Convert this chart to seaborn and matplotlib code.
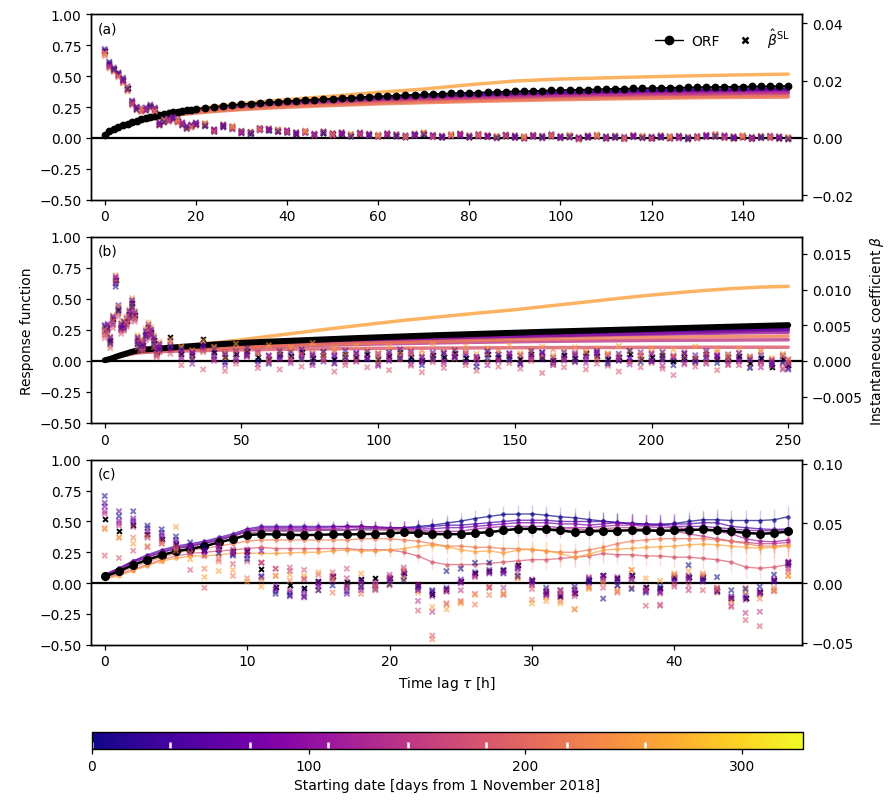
import numpy as np
import pandas as pd
import matplotlib
matplotlib.use('Agg')
import matplotlib.pyplot as plt
from matplotlib.colors import Normalize
from matplotlib.cm import ScalarMappable
from matplotlib.lines import Line2D
import seaborn as sns

sns.set_theme(style='ticks', rc={
    'axes.edgecolor': 'black', 'axes.labelcolor': 'black', 'text.color': 'black',
    'xtick.color': 'black', 'ytick.color': 'black', 'font.size': 10,
    'axes.labelsize': 10, 'xtick.labelsize': 10, 'ytick.labelsize': 10,
    'legend.fontsize': 10, 'axes.linewidth': 1.0,
    'xtick.major.width': 0.9, 'ytick.major.width': 0.9,
    'xtick.major.size': 3.5, 'ytick.major.size': 3.5})
plt.rcParams['font.family'] = ['DejaVu Sans']

# ── Starting dates (days from 1 Nov 2018) and colours ───────────────────────
start_days = [0, 36, 73, 109, 146, 182, 219, 255]
DAY_MAX = 328
cmap = plt.get_cmap('plasma')
norm = Normalize(0, DAY_MAX)
palette = {d: cmap(norm(d)) for d in start_days}

# ── Panel (a) ───────────────────────────────────────────────────────────────
lag_a = list(range(21)) + list(range(22, 151, 2))
lag_a_orf = [0, 1, 2, 3, 4, 5, 6, 7, 8, 9, 10, 12, 14, 16, 18, 20, 25, 30, 35, 40,
             50, 60, 70, 80, 90, 100, 110, 120, 130, 140, 150]
# ORF in thousandths
orf_a_all = [27, 52, 72, 88, 102, 115, 127, 138, 149, 160, 170, 179, 187, 194, 201, 207,
             213, 219, 224, 229, 234,
             242, 250, 258, 265, 272, 278, 283, 288, 293, 298, 302, 306, 310, 314, 318,
             322, 326, 330, 334, 337, 340, 343, 346, 349, 352, 355, 358, 360, 363, 365,
             367, 370, 372, 374, 376, 378, 380, 382, 384, 386, 388, 390, 391, 393, 395,
             397, 398, 400, 401, 403, 404, 406, 407, 408, 410, 411, 412, 413, 414, 415,
             416, 417, 418, 419, 420]
orf_a = [
    [25, 50, 70, 86, 100, 113, 124, 135, 146, 156, 166, 182, 195, 206, 216, 225, 244, 259, 271, 282, 300, 316, 329, 340, 350, 359, 367, 374, 380, 385, 390],
    [26, 51, 71, 87, 101, 114, 126, 137, 148, 158, 168, 184, 197, 209, 219, 228, 248, 264, 277, 288, 307, 324, 338, 350, 361, 370, 378, 386, 392, 397, 400],
    [25, 50, 70, 86, 100, 112, 123, 134, 144, 154, 164, 180, 193, 204, 214, 223, 242, 257, 269, 280, 298, 313, 326, 337, 347, 356, 364, 371, 377, 382, 385],
    [24, 49, 69, 85, 98, 110, 121, 131, 141, 151, 160, 176, 189, 200, 209, 218, 236, 250, 262, 272, 289, 304, 316, 326, 335, 343, 350, 357, 362, 366, 370],
    [24, 48, 68, 83, 97, 109, 120, 130, 140, 149, 158, 173, 186, 196, 205, 214, 231, 245, 256, 266, 282, 296, 308, 318, 327, 335, 342, 348, 353, 357, 360],
    [23, 47, 66, 81, 94, 106, 116, 126, 135, 144, 152, 167, 179, 189, 198, 206, 222, 235, 246, 255, 270, 283, 294, 303, 311, 318, 325, 330, 335, 338, 340],
    [22, 46, 65, 80, 93, 104, 114, 124, 133, 141, 149, 163, 175, 185, 193, 201, 216, 229, 239, 248, 262, 275, 285, 294, 302, 309, 315, 320, 325, 328, 330],
    [24, 49, 70, 87, 101, 114, 126, 137, 148, 159, 169, 186, 200, 213, 224, 235, 258, 278, 295, 310, 338, 368, 395, 430, 460, 476, 486, 495, 503, 510, 516],
]
# instantaneous coefficient in units of 1e-4
beta_a_all = [303, 257, 240, 222, 203, 174, 124, 103, 98, 101, 110, 100, 49, 60, 64, 69, 60, 49, 37, 42, 49,
              45, 25, 42, 35, 19, 16, 30, 28, 24, 22, 15, 20, 10, 18, 12, 15, 8, 14, 10, 6, 12, 8, 4, 10, 14,
              6, 3, 8, 11, 4, 9, 5, 2, 7, 4, 1, 6, 3, 8, 2, 5, -2, 4, 6, 1, 3, -1, 5, 2, 0, 4, 1, 3, -2, 2,
              6, 8, 3, 1, 4, -1, 2, 3, 0, -2]
beta_a = [
    [305, 262, 238, 225, 205, 170, 118, 100, 95, 96, 108, 97, 45, 55, 60, 66, 58, 45, 33, 40, 46,
     42, 22, 38, 30, 16, 12, 28, 25, 22, 18, 12, 18, 8, 15, 10, 12, 5, 12, 8, 4, 9, 6, 2, 8, 12, 4, 1, 6, 9, 2,
     7, 3, 0, 5, 2, -1, 4, 1, 6, 0, 3, -4, 2, 4, -1, 1, -3, 3, 0, -2, 2, -1, 1, -4, 0, 4, 6, 1, -1, 2, -3, 0, 1, -2, -4],
    [310, 265, 245, 228, 210, 180, 130, 108, 104, 106, 116, 106, 55, 65, 70, 74, 66, 54, 42, 47, 54,
     50, 30, 46, 40, 24, 20, 34, 32, 28, 26, 19, 24, 14, 22, 16, 19, 12, 18, 14, 10, 16, 12, 8, 14, 18, 10, 7, 12, 15, 8,
     13, 9, 6, 11, 8, 5, 10, 7, 12, 6, 9, 2, 8, 10, 5, 7, 3, 9, 6, 4, 8, 5, 7, 2, 6, 10, 12, 7, 5, 8, 3, 6, 7, 4, 2],
    [300, 255, 242, 220, 200, 176, 126, 106, 100, 104, 112, 102, 52, 62, 66, 70, 62, 52, 39, 44, 51,
     47, 27, 44, 37, 21, 18, 32, 30, 26, 24, 17, 22, 12, 20, 14, 17, 10, 16, 12, 8, 14, 10, 6, 12, 16, 8, 5, 10, 13, 6,
     11, 7, 4, 9, 6, 3, 8, 5, 10, 4, 7, 0, 6, 8, 3, 5, 1, 7, 4, 2, 6, 3, 5, 0, 4, 8, 10, 5, 3, 6, 1, 4, 5, 2, 0],
    [298, 250, 236, 218, 198, 170, 120, 98, 94, 99, 106, 96, 46, 58, 62, 67, 57, 47, 35, 40, 47,
     40, 28, 36, 38, 16, 20, 26, 30, 20, 24, 11, 18, 13, 16, 8, 14, 10, 12, 6, 9, 10, 4, 6, 7, 12, 3, 5, 9, 6, 2,
     4, 6, 1, 9, -1, 2, 7, -2, 5, 3, 1, -3, 5, 8, 0, 4, -2, 6, 1, -1, 3, 5, -2, 4, 0, 6, 3, 9, -1, 4, -2, 3, 0, 5, -3],
    [295, 248, 232, 215, 196, 168, 122, 104, 96, 98, 108, 98, 48, 56, 63, 65, 58, 50, 36, 41, 48,
     48, 24, 40, 34, 22, 14, 32, 26, 27, 20, 17, 21, 9, 20, 12, 16, 7, 15, 11, 5, 13, 9, 3, 11, 15, 5, 2, 9, 12, 3,
     10, 4, 1, 8, 3, -2, 6, 2, 7, -1, 4, -5, 3, 5, -3, 2, -4, 4, 1, -3, 3, -2, 0, -5, 1, 5, 7, 0, -2, 3, -4, 1, 2, -3, -5],
    [290, 245, 235, 214, 192, 165, 116, 100, 92, 95, 104, 94, 44, 54, 58, 64, 55, 44, 32, 38, 44,
     44, 21, 40, 31, 18, 13, 27, 27, 21, 21, 13, 17, 9, 16, 9, 13, 6, 12, 9, 3, 10, 7, 1, 9, 13, 2, 0, 7, 10, 1,
     6, 2, -2, 5, 1, -3, 4, 0, 4, -2, 1, -6, 0, 3, -4, -1, -5, 2, -2, -4, 0, -3, -1, -6, -2, 2, 4, -1, -4, 0, -5, -2, -1, -4, -6],
    [285, 242, 230, 212, 190, 162, 114, 96, 90, 94, 102, 92, 42, 52, 56, 62, 52, 42, 30, 36, 42,
     46, 26, 44, 36, 20, 17, 31, 29, 25, 23, 16, 21, 11, 19, 13, 16, 9, 15, 11, 7, 13, 9, 5, 11, 15, 7, 4, 9, 12, 5,
     10, 6, 3, 8, 5, 2, 7, 4, 9, 3, 6, -1, 5, 7, 2, 4, 0, 6, 3, 1, 5, 2, 4, -1, 3, 7, 9, 4, 2, 5, 0, 3, 4, 1, -1],
    [296, 252, 244, 226, 206, 178, 128, 110, 102, 104, 114, 104, 53, 64, 68, 72, 64, 53, 40, 46, 52,
     52, 30, 48, 42, 26, 22, 36, 34, 30, 28, 21, 26, 16, 24, 18, 21, 14, 20, 16, 12, 18, 14, 10, 16, 20, 12, 9, 14, 17, 10,
     15, 11, 8, 13, 10, 7, 12, 9, 14, 8, 11, 4, 10, 12, 7, 9, 5, 11, 8, 6, 10, 7, 9, 4, 8, 12, 14, 9, 7, 10, 5, 8, 9, 6, 4],
]

# ── Panel (b) ───────────────────────────────────────────────────────────────
lag_b = list(range(21)) + list(range(24, 249, 4)) + [250]
lag_b_orf = [0, 1, 2, 3, 4, 5, 6, 8, 10, 12, 15, 20, 25, 30] + list(range(40, 251, 10))
orf_b_all = [5, 10, 16, 24, 32, 40, 47, 60, 74, 84, 92, 100, 108, 116, 132, 145, 155, 164,
             173, 182, 190, 198, 206, 213, 220, 227, 234, 240, 246, 252, 258, 264, 270,
             276, 282, 288]
orf_b = [
    [4, 9, 15, 22, 30, 37, 44, 56, 68, 77, 85, 92, 98, 104, 115, 125, 133, 141, 148, 155, 162, 169, 176, 182, 188, 194, 200, 206, 211, 216, 222, 227, 233, 238, 244, 250],
    [5, 10, 16, 23, 31, 39, 46, 59, 72, 82, 90, 98, 105, 112, 125, 137, 146, 155, 163, 171, 178, 186, 193, 200, 207, 214, 220, 227, 233, 239, 245, 251, 257, 262, 267, 270],
    [5, 10, 16, 23, 31, 38, 45, 58, 70, 80, 88, 96, 103, 110, 122, 133, 142, 150, 158, 166, 173, 180, 187, 194, 200, 207, 213, 219, 225, 231, 236, 241, 246, 251, 256, 260],
    [4, 9, 15, 22, 29, 36, 43, 55, 66, 75, 83, 90, 96, 102, 112, 122, 130, 137, 144, 151, 157, 164, 170, 176, 182, 188, 193, 199, 204, 209, 213, 217, 221, 225, 228, 230],
    [4, 8, 14, 20, 27, 34, 40, 51, 62, 70, 77, 83, 88, 93, 101, 109, 115, 121, 126, 131, 136, 140, 144, 148, 151, 154, 157, 159, 161, 163, 165, 166, 167, 168, 169, 170],
    [3, 7, 12, 18, 24, 30, 36, 46, 56, 63, 69, 74, 77, 80, 85, 89, 92, 95, 97, 99, 101, 102, 103, 104, 105, 106, 107, 107, 108, 108, 109, 109, 110, 110, 110, 110],
    [4, 9, 14, 21, 28, 35, 41, 53, 64, 72, 79, 85, 91, 96, 105, 114, 121, 128, 134, 140, 146, 151, 156, 161, 166, 170, 174, 178, 182, 185, 188, 191, 194, 196, 198, 200],
    [5, 10, 16, 24, 32, 40, 47, 60, 73, 83, 91, 102, 114, 125, 145, 170, 198, 225, 252, 278, 303, 328, 350, 371, 392, 412, 436, 460, 484, 508, 530, 550, 568, 583, 594, 600],
]
beta_b_all = [45, 47, 29, 58, 113, 73, 48, 51, 56, 66, 81, 64, 29, 24, 22, 38, 47, 40, 29, 13, 20,
              33, 10, 8, 30, 12, 5, 9, 14, 6, 3, 10, 7, 12, 4, 8, 2, 10, 6, 9, 3, 7, 12, 5, 1, 8, 6, 11,
              4, 2, 9, 5, 7, 3, 10, 6, 1, 8, 4, 11, 7, 2, 6, 9, 3, 5, 8, 0, 6, 4, 10, 2, 5, 7, -3, 4, -8, 2, -6]
beta_b = [
    [50, 44, 25, 52, 104, 70, 44, 46, 52, 62, 76, 60, 24, 20, 18, 34, 42, 36, 24, 9, 16,
     20, 14, 2, 18, 6, -2, 14, 8, 0, -4, 6, 12, 3, -2, 13, -3, 5, 10, 2, -5, 12, 4, 0, -6, 3, 10, 5, -1, -8, 4,
     9, 1, -4, 6, 12, -3, 2, -1, 6, 12, -4, 1, 14, -2, 0, 4, -6, 10, -1, 5, -3, 9, 2, -10, 0, -4, -2, -12],
    [48, 50, 33, 62, 108, 78, 52, 55, 60, 70, 85, 68, 33, 28, 26, 42, 51, 44, 33, 17, 24,
     28, 16, 12, 24, 16, 9, 4, 18, 10, 7, 14, 3, 16, 8, 4, 6, 14, 2, 13, 7, 3, 16, 9, 5, 12, 2, 15, 8, 6, 13,
     9, 3, 7, 14, 2, 5, 12, 8, 7, 11, 6, 10, 4, 7, 9, 12, 4, 2, 8, 14, 6, 1, 11, 2, 8, -2, 6, -4],
    [42, 46, 27, 55, 116, 75, 46, 48, 54, 64, 79, 62, 27, 22, 20, 36, 45, 38, 27, 11, 18,
     18, 4, 10, 22, 2, 12, 0, 10, 12, -2, 4, 14, 6, 10, -1, 8, 4, 12, 3, 10, 0, 8, 12, -2, 4, 12, 6, 10, -3, 14,
     0, 11, 8, 4, 12, -2, 4, 10, 2, 14, 8, 0, 4, 12, -1, 2, 6, 11, 0, 4, 8, -1, 3, 6, -2, -6, 8, -10],
    [40, 52, 31, 60, 118, 70, 50, 53, 58, 68, 83, 66, 31, 26, 24, 40, 49, 42, 31, 15, 22,
     15, 12, -4, 14, 9, -6, 11, 6, -5, 8, 2, -3, 9, -6, 12, -4, 6, -1, 5, -7, 9, 2, -5, 6, 1, -4, 8, -2, 4, -6,
     3, 10, -5, 2, 8, -6, 4, 1, -3, 9, -2, 4, -5, 7, 1, -7, 6, -3, 2, -4, 7, -5, 0, 4, -9, 1, -12, -4],
    [36, 42, 22, 50, 112, 66, 42, 44, 50, 60, 74, 58, 22, 18, 16, 32, 40, 34, 22, 7, 14,
     22, 6, 14, 16, 0, 10, 3, 8, 14, 2, 8, 0, 10, 6, 2, 12, -2, 8, 4, 10, 2, 6, 14, 0, 10, -1, 6, 12, 3, 8,
     1, 9, -2, 6, 10, 4, 0, 12, 5, 2, 9, 3, -1, 8, 11, 0, 6, 2, -3, 8, 4, 6, -6, 1, -2, 0, -4, 2],
    [32, 38, 18, 46, 110, 62, 38, 42, 48, 56, 70, 55, 19, 15, 14, 29, 38, 32, 19, 5, 12,
     10, -6, 4, -12, 2, -14, -4, 6, -10, -2, -12, 4, -8, -3, 2, -15, -6, 0, -9, -4, -13, 2, -7, -16, -2, -10, 3, -6, -14, -1,
     -8, -3, -11, 0, -17, -5, -9, -2, -12, -4, -7, -15, -1, -9, -3, -11, -20, -5, -8, -2, -13, -6, -1, -9, -4, -7, -10, -3],
    [38, 40, 24, 56, 114, 68, 45, 47, 53, 62, 78, 61, 25, 21, 19, 35, 44, 37, 26, 10, 17,
     25, 18, 6, 12, 20, 4, 15, 9, 18, 6, 11, 16, 2, 12, 8, 14, 5, 10, 16, 3, 12, 6, 9, 15, 4, 11, 7, 13, 5, 10,
     14, 2, 8, 12, 6, 16, 3, 9, 13, 5, 10, 7, 15, 2, 11, 6, 8, 13, 4, 9, 12, 3, 10, 5, 14, 2, 7, -1],
    [44, 48, 34, 64, 120, 76, 54, 56, 62, 72, 88, 70, 36, 30, 28, 45, 54, 47, 36, 20, 27,
     30, 20, 15, 28, 18, 12, 24, 16, 10, 22, 14, 19, 9, 25, 13, 18, 8, 21, 15, 11, 20, 13, 17, 9, 23, 12, 16, 21, 10, 18,
     14, 22, 11, 16, 20, 8, 15, 19, 12, 17, 10, 21, 14, 9, 18, 13, 16, 7, 20, 12, 15, 9, 17, 6, 12, 4, 10, 2],
]

# ── Panel (c) ───────────────────────────────────────────────────────────────
lag_c = list(range(49))
orf_c_all = [54, 95, 148, 189, 227, 257, 278, 298, 330, 357, 389, 397,
             395, 392, 389, 392, 395, 395, 397, 400, 403, 411, 408, 397,
             397, 397, 405, 413, 427, 440, 440, 435, 427, 413, 419, 424, 424, 430, 427,
             424, 427, 430, 435, 427, 419, 408, 400, 405, 419]
err_c_all = [4, 5, 6, 7, 8, 8, 9, 10, 10, 11, 12, 12, 13, 13, 14, 14, 15, 15, 16, 16, 17,
             17, 18, 18, 19, 19, 20, 20, 21, 21, 22, 22, 23, 23, 24, 24, 25, 25, 26, 26, 27,
             27, 28, 28, 29, 29, 30, 30, 31]
err_c = [8, 10, 12, 14, 16, 18, 20, 22, 25, 27, 30, 32, 35, 38, 40, 43, 46, 48, 50, 52,
         55, 58, 60, 62, 63, 65, 68, 70, 72, 74, 75, 76, 76, 77, 78, 78, 79, 80, 80, 81,
         82, 82, 83, 84, 84, 85, 86, 86, 88]
orf_c = [
    [60, 110, 170, 210, 250, 280, 300, 320, 350, 380, 420, 430, 430, 430, 430, 430, 430, 430, 440, 440, 440, 450, 460, 470,
     487, 503, 524, 541, 557, 560, 562, 551, 538, 530, 516, 503, 492, 487, 478, 470, 484, 500, 514, 514, 508, 508, 508, 514, 538],
    [70, 120, 180, 230, 270, 300, 320, 340, 370, 400, 440, 460, 460, 460, 460, 460, 460, 460, 460, 455, 450, 450, 450, 460,
     470, 470, 480, 490, 500, 510, 510, 510, 500, 500, 500, 500, 490, 480, 480, 480, 480, 480, 490, 490, 460, 450, 440, 435, 440],
    [70, 120, 180, 220, 260, 290, 310, 330, 360, 390, 430, 450, 450, 450, 450, 450, 455, 460, 460, 455, 450, 450, 440, 440,
     450, 450, 460, 470, 480, 490, 490, 490, 480, 480, 470, 480, 490, 480, 470, 470, 460, 460, 460, 450, 440, 430, 425, 425, 435],
    [60, 110, 170, 210, 250, 280, 300, 320, 350, 380, 420, 440, 440, 440, 440, 440, 440, 450, 450, 450, 440, 440, 430, 420,
     420, 420, 440, 450, 460, 460, 460, 460, 450, 450, 450, 460, 470, 470, 460, 450, 450, 440, 430, 420, 400, 360, 340, 335, 350],
    [50, 100, 150, 190, 230, 260, 280, 300, 330, 360, 400, 420, 420, 420, 420, 430, 430, 430, 430, 430, 430, 430, 420, 410,
     400, 400, 410, 420, 430, 440, 440, 440, 440, 440, 430, 440, 450, 450, 440, 430, 420, 400, 380, 360, 340, 330, 320, 320, 330],
    [40, 70, 110, 150, 190, 220, 240, 250, 260, 270, 280, 290, 280, 280, 280, 280, 280, 280, 270, 270, 270, 250, 220, 170,
     150, 150, 150, 160, 170, 180, 190, 190, 200, 210, 220, 240, 230, 230, 220, 220, 210, 210, 200, 190, 170, 130, 120, 130, 150],
    [50, 80, 130, 170, 210, 240, 270, 280, 300, 320, 340, 350, 350, 350, 350, 350, 350, 350, 360, 360, 360, 350, 340, 320,
     300, 300, 290, 290, 280, 280, 270, 260, 250, 250, 270, 290, 320, 340, 350, 360, 360, 360, 360, 350, 340, 320, 300, 300, 310],
    [30, 60, 100, 140, 180, 200, 220, 220, 230, 240, 245, 240, 240, 245, 250, 250, 260, 270, 260, 260, 270, 280, 300, 310,
     295, 270, 254, 262, 243, 267, 276, 262, 240, 208, 235, 267, 276, 281, 289, 295, 300, 311, 316, 311, 300, 289, 284, 289, 300],
]
beta_c_all = [532, 436, 483, 414, 367, 330, 300, 280, 310, 270, 270, 120,
              -30, -20, -40, 20, 60, 6, 30, 40, 40, 80, -20, -90,
              -50, 20, 83, 97, 110, 150, 25, -86, -110, -86, 25, 70, 40, 67, -36, -44, 50, 50, 50,
              -64, -128, -128, -78, 25, 178]
beta_c = [
    [728, 560, 600, 480, 450, 390, 340, 300, 250, 230, 200, 50, -90, -100, -110, -60, -20, -70, -30, -50, -10, 20, -40, -60,
     100, 120, 170, 170, 110, 60, 10, -40, -60, -30, 30, -130, -20, -50, -80, -30, 40, 150, 20, 50, -60, -50, -30, 70, 160],
    [670, 600, 520, 460, 420, 360, 300, 270, 280, 240, 230, 60, -70, -80, -60, 0, 40, -20, 10, -20, 20, 60, -30, -70,
     -40, 30, 90, 110, 80, 120, -10, -70, -100, -60, 10, 40, 20, 30, -60, -70, 30, 60, 30, -70, -110, -100, -70, 10, 150],
    [640, 520, 540, 430, 400, 340, 310, 260, 300, 250, 260, 270, -50, -110, -120, -30, 20, -90, -60, -30, 30, 90, -60, -110,
     -70, 0, 60, 80, 90, 130, 10, -100, -120, -80, 0, 60, 30, 50, -70, -80, 20, 40, 40, -60, -130, -120, -90, 20, 170],
    [600, 500, 500, 400, 380, 320, 290, 270, 320, 280, 280, 170, -20, -60, -90, 10, 50, -40, 20, 10, 50, 100, -10, -80,
     -60, 10, 70, 90, 100, 140, 30, -80, -90, -90, 40, 60, 50, 60, -40, -50, 60, 30, 60, -50, -120, -140, -80, 30, 180],
    [580, 480, 470, 380, 350, 300, 250, 230, 290, 260, 240, 170, 120, 100, 30, -20, 60, 40, -40, -10, 70, 130, -150, -240,
     -70, -60, 50, -40, -40, 90, -20, -100, -60, -110, 50, 20, -20, 30, -60, -190, -30, -60, 10, -40, -190, -250, -240, -60, 120],
    [230, 210, 270, 300, 330, 290, 110, -40, 200, 160, 180, 170, 120, 130, 110, 70, 90, 120, -10, -60, -20, 50, -230, -440,
     -170, -150, -90, -30, -100, 50, -50, -60, -80, -50, -30, -40, -70, -40, -190, -180, -10, -20, -60, -80, -200, -310, -360, -70, 100],
    [460, 380, 380, 390, 330, 270, 250, 120, 180, 60, 40, 30, 60, 20, 40, -60, -80, -30, -90, -30, 40, 110, -60, -470,
     -180, -160, -180, -100, -90, 40, -140, -120, -150, -220, -40, 0, -80, 110, -60, -90, 70, 50, 80, -40, -150, -40, -130, -40, 60],
    [450, 380, 330, 310, 180, 470, 200, 50, 100, 110, 10, -30, 60, 70, 60, 90, 30, -30, 80, -20, -10, 30, -80, -200,
     -220, -170, -100, -40, -90, 50, -170, -150, -170, -220, -50, 20, -60, 110, 40, 20, 80, 100, 60, -50, -140, -70, -100, -60, 60],
]


def long_frame(lags, rows, scale):
    recs = []
    for i, (d, row) in enumerate(zip(start_days, rows)):
        assert len(row) == len(lags), (d, len(row), len(lags))
        recs += [(t, v * scale, d, (i + 3 * j) % len(start_days))
                 for j, (t, v) in enumerate(zip(lags, row))]
    return pd.DataFrame(recs, columns=['lag', 'val', 'start', 'order'])


# ── Figure layout ─────────────────────────────────────────────────────────────
fig = plt.figure(figsize=(8.93, 8.03), dpi=100)
ax_a = fig.add_axes([0.102, 0.750, 0.796, 0.231])
ax_b = fig.add_axes([0.102, 0.472, 0.796, 0.232])
ax_c = fig.add_axes([0.102, 0.196, 0.796, 0.230])
cax = fig.add_axes([0.103, 0.066, 0.796, 0.021])

panels = [
    dict(ax=ax_a, tag='(a)', lag=lag_a, lag_orf=lag_a_orf, orf=orf_a, orf_all=orf_a_all,
         beta=beta_a, beta_all=beta_a_all, k=0.0431, xlim=(-3, 153),
         xticks=range(0, 141, 20), rticks=[-0.02, 0.0, 0.02, 0.04]),
    dict(ax=ax_b, tag='(b)', lag=lag_b, lag_orf=lag_b_orf, orf=orf_b, orf_all=orf_b_all,
         beta=beta_b, beta_all=beta_b_all, k=0.0174, xlim=(-5, 255),
         xticks=range(0, 251, 50), rticks=[-0.005, 0.0, 0.005, 0.010, 0.015]),
    dict(ax=ax_c, tag='(c)', lag=lag_c, lag_orf=lag_c, orf=orf_c, orf_all=orf_c_all,
         beta=beta_c, beta_all=beta_c_all, k=0.103, xlim=(-0.96, 48.96),
         xticks=range(0, 41, 10), rticks=[-0.05, 0.0, 0.05, 0.10]),
]

for p in panels:
    ax = p['ax']
    ax.axhline(0, color='black', lw=1.6, zorder=1)
    orf_df = long_frame(p['lag_orf'], p['orf'], 1e-3)
    dense = p['tag'] != '(c)'
    if dense:
        sns.lineplot(data=orf_df, x='lag', y='val', hue='start', palette=palette,
                     estimator=None, sort=False, lw=2.5, alpha=0.8, legend=False, ax=ax)
    else:
        for d, row in zip(start_days, p['orf']):
            ax.errorbar(lag_c, np.array(row) * 1e-3, yerr=np.array(err_c) * 1e-3,
                        fmt='none', ecolor=palette[d], elinewidth=1.0, alpha=0.2)
        sns.lineplot(data=orf_df, x='lag', y='val', hue='start', palette=palette,
                     estimator=None, sort=False, lw=1.0, alpha=0.7, marker='o',
                     markersize=3.2, markeredgewidth=0, legend=False, ax=ax)
    orf_all = np.array(p['orf_all']) * 1e-3
    if p['tag'] == '(a)':
        ax.plot(lag_a, orf_all, '-o', color='black', ms=4.6, lw=1.2, zorder=5)
    elif p['tag'] == '(b)':
        ax.plot(lag_b_orf, orf_all, '-', color='black', lw=4.3, zorder=5,
                solid_capstyle='round')
    else:
        ax.errorbar(lag_c, orf_all, yerr=np.array(err_c_all) * 1e-3, fmt='-o',
                    color='black', ms=5.5, lw=1.8, elinewidth=1.0, zorder=5)

    ax.set_xlim(*p['xlim'])
    ax.set_ylim(-0.5, 1.0)
    ax.set_xticks(list(p['xticks']))
    ax.set_yticks([-0.5, -0.25, 0.0, 0.25, 0.5, 0.75, 1.0])
    ax.set_xlabel('')
    ax.set_ylabel('')
    ax.text(0.009, 0.925, p['tag'], transform=ax.transAxes, ha='left', va='center',
            fontsize=10)

    tw = ax.twinx()
    # black crosses first, coloured cloud on top, interleaved so no series hides the rest
    tw.scatter(p['lag'], np.array(p['beta_all']) * 1e-4, marker='x', color='black',
               s=12, linewidth=1.4, zorder=1)
    beta_df = long_frame(p['lag'], p['beta'], 1e-4).sort_values(['order', 'lag'])
    sns.scatterplot(data=beta_df, x='lag', y='val', hue='start', palette=palette,
                    marker='x', s=14, linewidth=1.4, alpha=0.55, legend=False,
                    zorder=2, ax=tw)
    tw.set_ylim(-0.5 * p['k'], p['k'])
    tw.set_yticks(p['rticks'])
    tw.set_xlim(*p['xlim'])
    tw.set_xlabel('')
    tw.set_ylabel('')
    p['tw'] = tw

ax_b.set_ylabel('Response function')
panels[1]['tw'].set_ylabel(r'Instantaneous coefficient $\beta$')
ax_c.set_xlabel(r'Time lag $\tau$ [h]')

h_orf = Line2D([], [], color='black', marker='o', ms=6, lw=1.0)
h_beta = Line2D([], [], color='black', marker='x', ls='none', ms=5, mew=1.8)
panels[0]['tw'].legend([h_orf, h_beta], ['ORF', r'$\hat{\beta}^{\rm SL}$'],
                       loc='upper right', ncol=2, frameon=False, handlelength=2.0,
                       handletextpad=0.6, columnspacing=0.8, borderaxespad=0.5)

# ── Colour bar ─────────────────────────────────────────────────────────────────
sm = ScalarMappable(norm=norm, cmap=cmap)
cb = fig.colorbar(sm, cax=cax, orientation='horizontal')
cb.set_ticks([0, 100, 200, 300])
cb.outline.set_linewidth(1.0)
cax.vlines(start_days, 0.07, 0.43, colors='white', lw=1.8)
cb.set_label('Starting date [days from 1 November 2018]')

fig.savefig('out.png', dpi=100)
